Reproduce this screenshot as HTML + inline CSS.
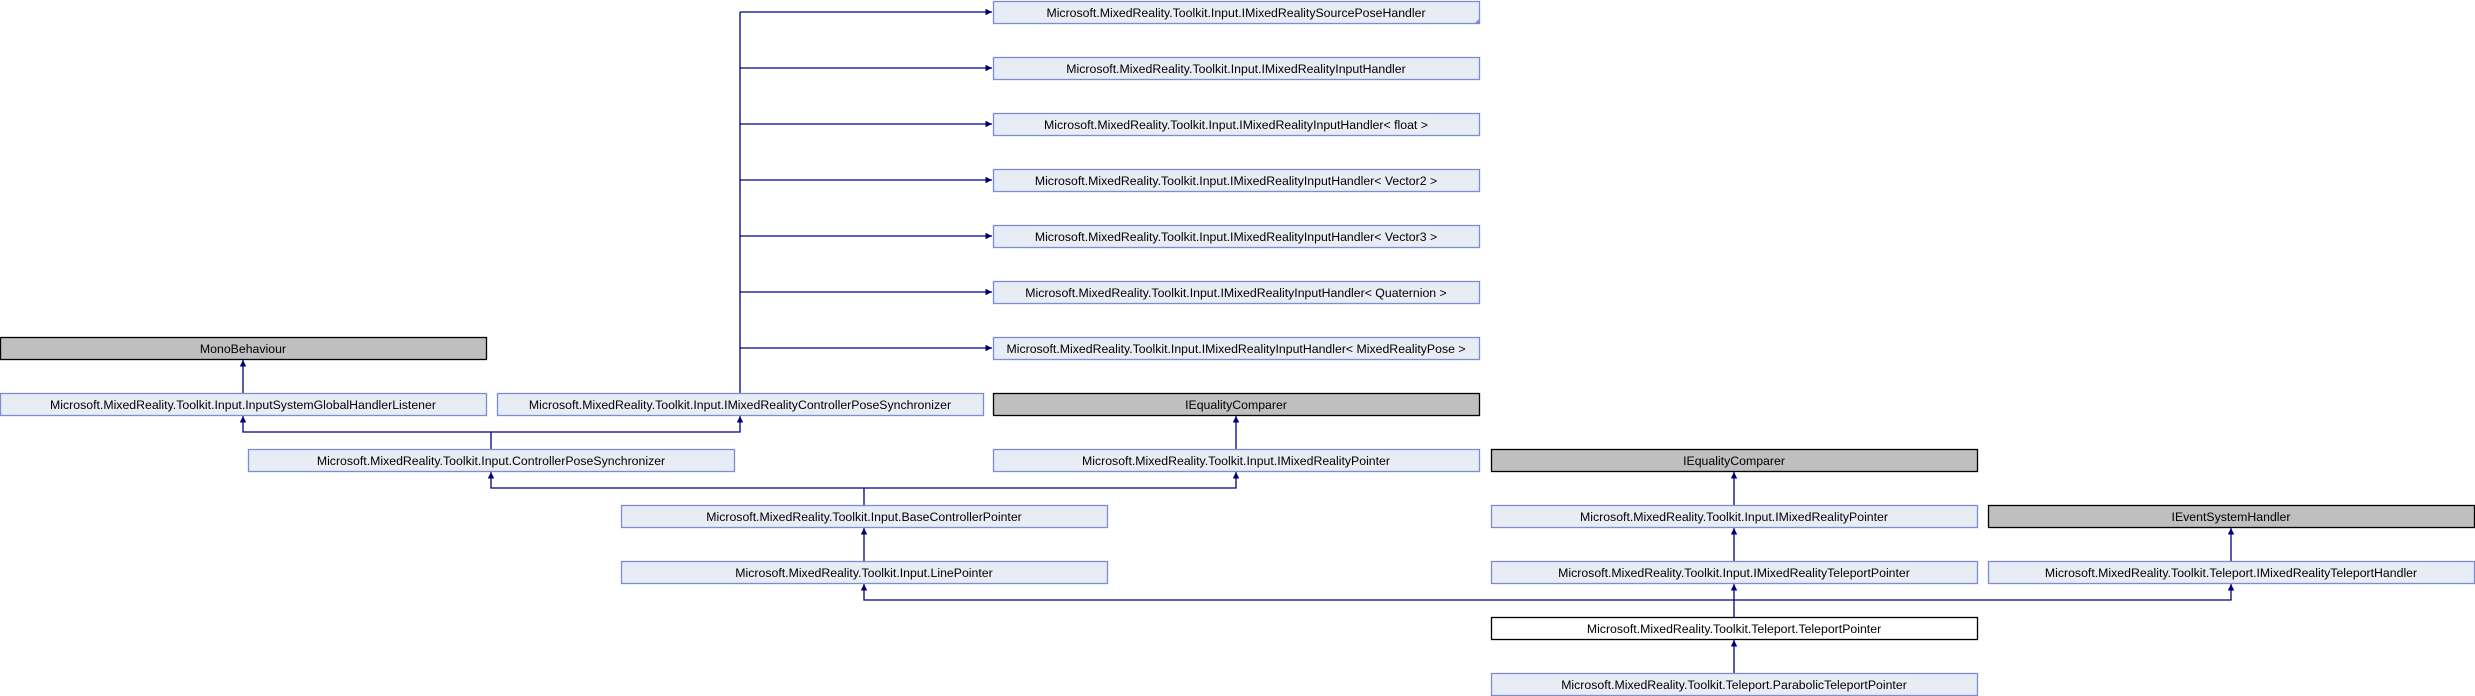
<!DOCTYPE html>
<html><head><meta charset="utf-8"><style>
html,body{margin:0;padding:0;background:#fff;}
svg{display:block;}
text{font-family:"Liberation Sans",sans-serif;font-size:12.3px;fill:#000;text-anchor:middle;}
</style></head><body>
<svg width="2475" height="696" viewBox="0 0 2475 696" xmlns="http://www.w3.org/2000/svg">
<defs>
<marker id="a" viewBox="0 0 10 10" refX="10" refY="5" markerWidth="5" markerHeight="5" orient="auto">
<path d="M0,0 L10,5 L0,10 z" fill="#000080"/></marker>
</defs>
<g fill="none" stroke="#000080" stroke-width="1.3">
<!-- trunk -->
<path d="M740,393 V12"/>
<path d="M740,12 H992" marker-end="url(#a)"/>
<path d="M740,68 H992" marker-end="url(#a)"/>
<path d="M740,124 H992" marker-end="url(#a)"/>
<path d="M740,180 H992" marker-end="url(#a)"/>
<path d="M740,236 H992" marker-end="url(#a)"/>
<path d="M740,292 H992" marker-end="url(#a)"/>
<path d="M740,348 H992" marker-end="url(#a)"/>
<!-- InputSys -> Mono -->
<path d="M243,393 V360" marker-end="url(#a)"/>
<!-- CPS -> InputSys, IMRCPS -->
<path d="M491,449 V432 H243 V416" marker-end="url(#a)"/>
<path d="M491,432 H740 V416" marker-end="url(#a)"/>
<!-- BaseControllerPointer -> CPS, IMRPointer -->
<path d="M864,505 V488 H491 V472" marker-end="url(#a)"/>
<path d="M864,488 H1236 V472" marker-end="url(#a)"/>
<!-- IMRPointer -> IEquality -->
<path d="M1236,449 V416" marker-end="url(#a)"/>
<!-- LinePointer -> Base -->
<path d="M864,561 V528" marker-end="url(#a)"/>
<!-- TeleportPointer -> LinePointer, IMRTeleportPointer, Handler -->
<path d="M1734,617 V600 H864 V584" marker-end="url(#a)"/>
<path d="M1734,600 V584" marker-end="url(#a)"/>
<path d="M1734,600 H2231 V584" marker-end="url(#a)"/>
<path d="M1734,561 V528" marker-end="url(#a)"/>
<path d="M1734,505 V472" marker-end="url(#a)"/>
<path d="M2231,561 V528" marker-end="url(#a)"/>
<path d="M1734,673 V640" marker-end="url(#a)"/>
</g>
<g stroke-width="1.3">
<!-- blue boxes -->
<g fill="#e8ecf5" stroke="#7b8fd0">
<rect x="993.5" y="1.5" width="486" height="22"/>
<rect x="993.5" y="57.5" width="486" height="22"/>
<rect x="993.5" y="113.5" width="486" height="22"/>
<rect x="993.5" y="169.5" width="486" height="22"/>
<rect x="993.5" y="225.5" width="486" height="22"/>
<rect x="993.5" y="281.5" width="486" height="22"/>
<rect x="993.5" y="337.5" width="486" height="22"/>
<rect x="0.5" y="393.5" width="486" height="22"/>
<rect x="497.5" y="393.5" width="486" height="22"/>
<rect x="248.5" y="449.5" width="486" height="22"/>
<rect x="993.5" y="449.5" width="486" height="22"/>
<rect x="621.5" y="505.5" width="486" height="22"/>
<rect x="1491.5" y="505.5" width="486" height="22"/>
<rect x="621.5" y="561.5" width="486" height="22"/>
<rect x="1491.5" y="561.5" width="486" height="22"/>
<rect x="1988.5" y="561.5" width="486" height="22"/>
<rect x="1491.5" y="673.5" width="486" height="22"/>
</g>
<g fill="#bfbfbf" stroke="#000">
<rect x="0.5" y="337.5" width="486" height="22"/>
<rect x="993.5" y="393.5" width="486" height="22"/>
<rect x="1491.5" y="449.5" width="486" height="22"/>
<rect x="1988.5" y="505.5" width="486" height="22"/>
</g>
<rect x="1491.5" y="617.5" width="486" height="22" fill="#fff" stroke="#000"/>
<path d="M1479,19 L1479,23 L1475,23 z" fill="#7b8fd0"/>
</g>
<g>
<text x="1236" y="17">Microsoft.MixedReality.Toolkit.Input.IMixedRealitySourcePoseHandler</text>
<text x="1236" y="73">Microsoft.MixedReality.Toolkit.Input.IMixedRealityInputHandler</text>
<text x="1236" y="129">Microsoft.MixedReality.Toolkit.Input.IMixedRealityInputHandler&lt; float &gt;</text>
<text x="1236" y="185">Microsoft.MixedReality.Toolkit.Input.IMixedRealityInputHandler&lt; Vector2 &gt;</text>
<text x="1236" y="241">Microsoft.MixedReality.Toolkit.Input.IMixedRealityInputHandler&lt; Vector3 &gt;</text>
<text x="1236" y="297">Microsoft.MixedReality.Toolkit.Input.IMixedRealityInputHandler&lt; Quaternion &gt;</text>
<text x="1236" y="353">Microsoft.MixedReality.Toolkit.Input.IMixedRealityInputHandler&lt; MixedRealityPose &gt;</text>
<text x="243" y="353">MonoBehaviour</text>
<text x="243" y="409">Microsoft.MixedReality.Toolkit.Input.InputSystemGlobalHandlerListener</text>
<text x="740" y="409">Microsoft.MixedReality.Toolkit.Input.IMixedRealityControllerPoseSynchronizer</text>
<text x="1236" y="409">IEqualityComparer</text>
<text x="491" y="465">Microsoft.MixedReality.Toolkit.Input.ControllerPoseSynchronizer</text>
<text x="1236" y="465">Microsoft.MixedReality.Toolkit.Input.IMixedRealityPointer</text>
<text x="1734" y="465">IEqualityComparer</text>
<text x="864" y="521">Microsoft.MixedReality.Toolkit.Input.BaseControllerPointer</text>
<text x="1734" y="521">Microsoft.MixedReality.Toolkit.Input.IMixedRealityPointer</text>
<text x="2231" y="521">IEventSystemHandler</text>
<text x="864" y="577">Microsoft.MixedReality.Toolkit.Input.LinePointer</text>
<text x="1734" y="577">Microsoft.MixedReality.Toolkit.Input.IMixedRealityTeleportPointer</text>
<text x="2231" y="577">Microsoft.MixedReality.Toolkit.Teleport.IMixedRealityTeleportHandler</text>
<text x="1734" y="633">Microsoft.MixedReality.Toolkit.Teleport.TeleportPointer</text>
<text x="1734" y="689">Microsoft.MixedReality.Toolkit.Teleport.ParabolicTeleportPointer</text>
</g>
</svg>
</body></html>
